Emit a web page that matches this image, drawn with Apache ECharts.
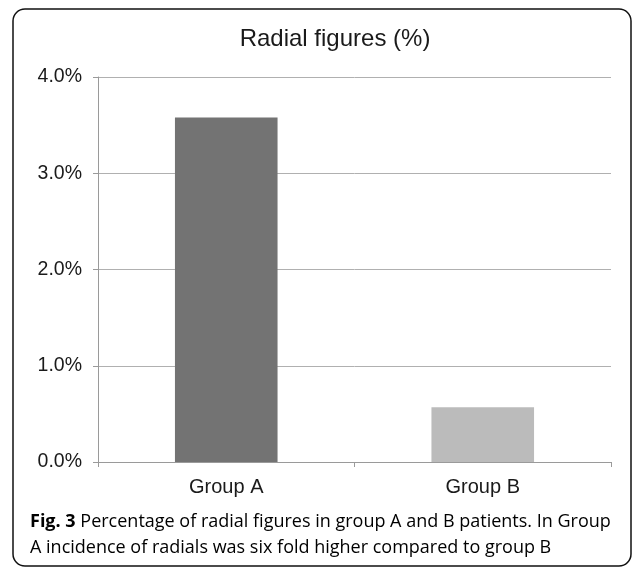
<!DOCTYPE html>
<html><head><meta charset="utf-8">
<script src="https://cdn.jsdelivr.net/npm/echarts@6/dist/echarts.min.js"></script>
<style>html,body{margin:0;padding:0;background:#fff}#c{width:634px;height:569px}</style>
</head><body><div id="c"></div>
<script>
const categories = ['Group A', 'Group B'];
const values = [3.58, 0.57];
const barColors = ['#737373', '#BBBBBB'];
const titleText = 'Radial figures (%)';
const captionBold = 'Fig. 3';
const captionLine1 = ' Percentage of radial figures in group A and B patients. In Group';
const captionLine2 = 'A incidence of radials was six fold higher compared to group B';

const chart = echarts.init(document.getElementById('c'), null, {renderer: 'canvas'});
chart.setOption({
  animation: false,
  backgroundColor: '#fff',
  title: {
    text: titleText, left: 330, top: 22, textAlign: 'center',
    textStyle: {fontFamily: 'Liberation Sans', fontSize: 24, fontWeight: 'normal', color: '#1a1a1a'}
  },
  grid: {left: 98, right: 23, top: 77, bottom: 107, containLabel: false},
  xAxis: {
    type: 'category', data: categories,
    axisLine: {lineStyle: {color: '#9a9a9a', width: 1}},
    axisTick: {show: true, length: 5, lineStyle: {color: '#9a9a9a'}},
    axisLabel: {fontFamily: 'Liberation Sans', fontSize: 20, color: '#1a1a1a', margin: 15}
  },
  yAxis: {
    type: 'value', min: 0, max: 4, interval: 1,
    axisLine: {show: true, lineStyle: {color: '#9a9a9a', width: 1}},
    axisTick: {show: true, length: 5, lineStyle: {color: '#9a9a9a'}},
    splitLine: {lineStyle: {color: '#b0b0b0', width: 1}},
    axisLabel: {fontFamily: 'Liberation Sans', fontSize: 19.5, color: '#1a1a1a', margin: 16,
      formatter: v => v.toFixed(1) + '%'}
  },
  series: [{
    type: 'bar', barWidth: '40%',
    data: values.map((v, i) => ({value: v, itemStyle: {color: barColors[i]}}))
  }],
  graphic: [
    {type: 'rect', shape: {x: 13, y: 9, width: 618, height: 557, r: 12},
     style: {fill: 'none', stroke: '#111', lineWidth: 1.5}, silent: true},
    {type: 'text', left: 30, top: 513,
     style: {
       text: '{b|' + captionBold + '}{n|' + captionLine1 + '}\n{n|' + captionLine2 + '}',
       rich: {
         b: {fontFamily: 'Open Sans', fontWeight: 'bold', fontSize: 18, color: '#222', lineHeight: 26},
         n: {fontFamily: 'Open Sans', fontSize: 18, color: '#222', lineHeight: 26}
       }
     }}
  ]
});
</script></body></html>
